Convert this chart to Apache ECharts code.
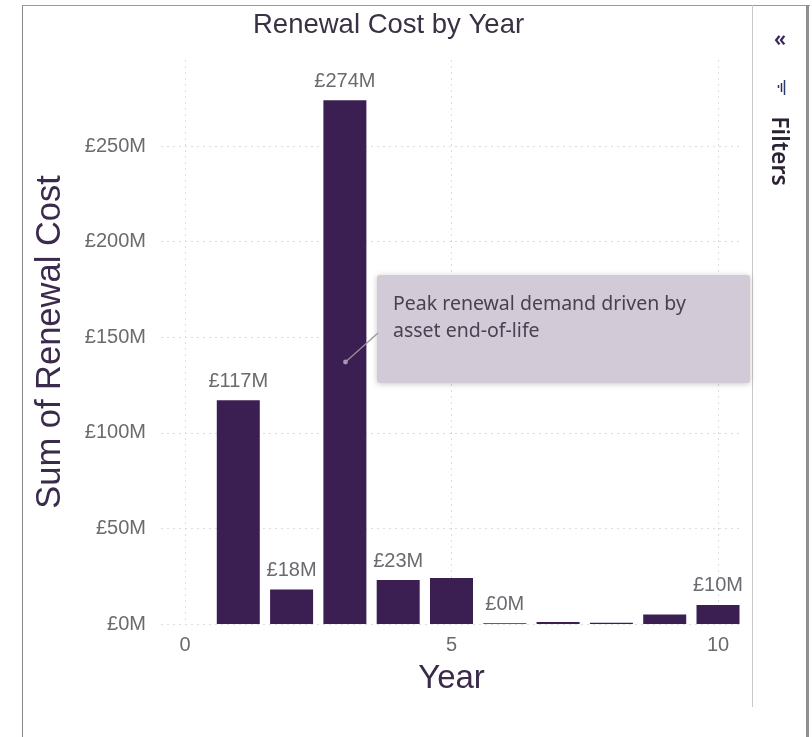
<!DOCTYPE html>
<html>
<head>
<meta charset="utf-8">
<title>Renewal Cost by Year</title>
<script src="https://cdn.jsdelivr.net/npm/echarts@6/dist/echarts.min.js"></script>
<style>
  html, body { margin: 0; padding: 0; background: #ffffff; }
  #chart { width: 812px; height: 737px; }
</style>
</head>
<body>
<div id="chart"></div>
<script>
// Renewal cost per year, in £ millions
const years = [1, 2, 3, 4, 5, 6, 7, 8, 9, 10];
const renewalCost = [117, 18, 274, 23, 24, 0.4, 1.0, 0.6, 5, 10];
// Years whose bars carry a data label
const labelledYears = [1, 2, 3, 4, 6, 10];
// Axis tick values
const yearTicks = [0, 5, 10];
const costTicks = [0, 50, 100, 150, 200, 250];

const BAR = '#3b1f53';
const LABEL_GREY = '#6b6a70';
const CHART_FONT = '"Liberation Sans", Arial, sans-serif';
const UI_FONT = '"Noto Sans", "Open Sans", sans-serif';

const fmtMoney = v => '£' + Math.round(v) + 'M';

const chart = echarts.init(document.getElementById('chart'), null, { renderer: 'canvas' });

const option = {
  backgroundColor: '#ffffff',
  animation: false,
  title: {
    text: 'Renewal Cost by Year',
    left: 248,
    top: 6,
    textStyle: { fontFamily: CHART_FONT, fontSize: 27.5, fontWeight: 'normal', color: '#3a3244' }
  },
  grid: { left: 161, right: 70, top: 60, bottom: 113, containLabel: false },
  xAxis: {
    type: 'value',
    min: -0.45,
    max: 10.45,
    name: 'Year',
    nameLocation: 'middle',
    nameGap: 38,
    nameTextStyle: { fontFamily: CHART_FONT, fontSize: 33, color: '#3a2a4c', verticalAlign: 'top' },
    axisLine: { show: false },
    axisTick: { show: false, customValues: yearTicks },
    axisLabel: {
      customValues: yearTicks,
      margin: 11,
      fontFamily: CHART_FONT, fontSize: 20, color: LABEL_GREY
    },
    splitLine: { show: true, lineStyle: { color: '#dcdcdc', type: [2, 4], width: 1 } }
  },
  yAxis: {
    type: 'value',
    min: 0,
    max: 295,
    name: 'Sum of Renewal Cost',
    nameLocation: 'middle',
    nameGap: 93,
    nameTextStyle: { fontFamily: CHART_FONT, fontSize: 34.5, color: '#3a2a4c' },
    axisLine: { show: false },
    axisTick: { show: false, customValues: costTicks },
    axisLabel: {
      customValues: costTicks,
      margin: 15,
      formatter: fmtMoney,
      fontFamily: CHART_FONT, fontSize: 20, color: LABEL_GREY
    },
    splitLine: { show: true, lineStyle: { color: '#dcdcdc', type: [2, 4], width: 1 } }
  },
  series: [{
    type: 'bar',
    barWidth: 43,
    itemStyle: { color: BAR },
    label: {
      show: false,
      position: 'top',
      distance: 9,
      formatter: p => fmtMoney(p.value[1]),
      fontFamily: CHART_FONT, fontSize: 20, color: LABEL_GREY
    },
    data: years.map((y, i) => ({
      value: [y, renewalCost[i]],
      label: { show: labelledYears.includes(y) }
    }))
  }],
  graphic: [
    // report frame
    { type: 'line', z: 20, shape: { x1: 22.5, y1: 5, x2: 22.5, y2: 737 }, style: { stroke: '#8a8a8a', lineWidth: 1 } },
    { type: 'line', z: 20, shape: { x1: 22, y1: 5.5, x2: 810, y2: 5.5 }, style: { stroke: '#9a9a9a', lineWidth: 1 } },
    { type: 'line', z: 20, shape: { x1: 752.5, y1: 5, x2: 752.5, y2: 707 }, style: { stroke: '#c8c8c8', lineWidth: 1 } },
    { type: 'rect', z: 20, shape: { x: 806, y: 5, width: 3, height: 732 }, style: { fill: '#8f8f8f' } },
    // filters pane
    { type: 'text', z: 20, x: 780, y: 40, style: { text: '«', fontFamily: UI_FONT, fontSize: 21, fontWeight: 600, fill: '#3a2a5c', align: 'center', verticalAlign: 'middle' } },
    { type: 'line', z: 20, shape: { x1: 778.5, y1: 85, x2: 778.5, y2: 88 }, style: { stroke: '#3a2a4c', lineWidth: 1.5 } },
    { type: 'line', z: 20, shape: { x1: 781.5, y1: 83, x2: 781.5, y2: 92 }, style: { stroke: '#3a2a4c', lineWidth: 1.5 } },
    { type: 'line', z: 20, shape: { x1: 784.5, y1: 80, x2: 784.5, y2: 95 }, style: { stroke: '#2e3a6a', lineWidth: 1.5 } },
    { type: 'text', z: 20, x: 779, y: 151, rotation: -Math.PI / 2,
      style: { text: 'Filters', fontFamily: UI_FONT, fontSize: 23, fontWeight: 600, fill: '#2b2233', align: 'center', verticalAlign: 'middle' } },
    // annotation callout
    { type: 'rect', z: 20, shape: { x: 377, y: 275, width: 373, height: 108, r: 3 },
      style: { fill: '#d3cad8', shadowBlur: 6, shadowColor: 'rgba(0,0,0,0.22)', shadowOffsetY: 1 } },
    { type: 'text', z: 21, x: 393, y: 291,
      style: { text: 'Peak renewal demand driven by\nasset end-of-life', fontFamily: UI_FONT, fontSize: 19.5, lineHeight: 27, fill: '#4a4052' } },
    { type: 'line', z: 21, shape: { x1: 345.5, y1: 362, x2: 378, y2: 333 }, style: { stroke: '#9b92a2', lineWidth: 1.2 } },
    { type: 'circle', z: 21, shape: { cx: 345.5, cy: 362, r: 2.4 }, style: { fill: '#a399aa' } }
  ]
};

chart.setOption(option);
</script>
</body>
</html>
